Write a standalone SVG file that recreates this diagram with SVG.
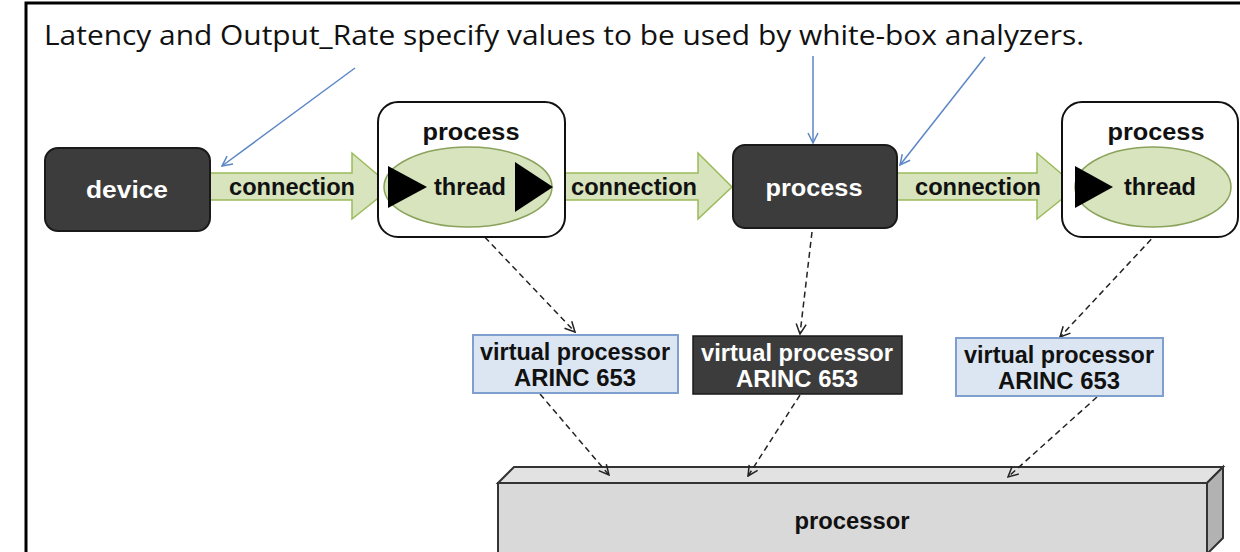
<svg xmlns="http://www.w3.org/2000/svg" width="1240" height="552" viewBox="0 0 1240 552">
  <style>
    .title { font-family: "Open Sans", "Liberation Sans", sans-serif; font-size: 28px; fill: #111; }
    .lbl { font-family: "Liberation Sans", Arial, sans-serif; font-weight: bold; font-size: 23px; }
    .dark { fill: #3c3c3c; stroke: #1a1a1a; stroke-width: 2; }
    .white { fill: #ffffff; }
    .black { fill: #111111; }
    .frame { fill: #ffffff; stroke: #111111; stroke-width: 2; }
    .conn { fill: #d7e4bd; stroke: #9bbb59; stroke-width: 1.5; }
    .thread { fill: #d7e4bd; stroke: #8aa25a; stroke-width: 1.5; }
    .port { fill: #000000; }
    .vp { fill: #dce6f2; stroke: #7f9fcf; stroke-width: 2; }
    .vpdark { fill: #3c3c3c; stroke: #1a1a1a; stroke-width: 1.5; }
    .note { stroke: #5b87c5; stroke-width: 1.5; fill: none; }
    .bind { stroke: #222222; stroke-width: 1.5; stroke-dasharray: 6 4; fill: none; }
  </style>
  <defs>
    <marker id="noteHead" viewBox="0 0 12 12" refX="11" refY="6" markerWidth="12" markerHeight="12" markerUnits="userSpaceOnUse" orient="auto">
      <path d="M1,1 L11,6 L1,11" fill="none" stroke="#5b87c5" stroke-width="1.5"/>
    </marker>
    <marker id="bindHead" viewBox="0 0 12 12" refX="11" refY="6" markerWidth="12" markerHeight="12" markerUnits="userSpaceOnUse" orient="auto">
      <path d="M1,1 L11,6 L1,11" fill="none" stroke="#222222" stroke-width="1.5"/>
    </marker>
  </defs>

  <rect width="1240" height="552" fill="#ffffff"/>
  <!-- outer frame -->
  <path d="M26,552 L26,3 L1240,3" fill="none" stroke="#000" stroke-width="3"/>

  <text class="title" x="44" y="45" textLength="1040" lengthAdjust="spacingAndGlyphs">Latency and Output_Rate specify values to be used by white-box analyzers.</text>

  <!-- processor (3D box) -->
  <g id="processor">
    <polygon points="498,483 514,467 1223,467 1207,483" fill="#e2e2e2" stroke="#333" stroke-width="2"/>
    <polygon points="1207,483 1223,467 1223,538 1207,554" fill="#b2b2b2" stroke="#333" stroke-width="2"/>
    <rect x="498" y="483" width="709" height="80" fill="#d9d9d9" stroke="#333" stroke-width="2"/>
    <text class="lbl black" x="852" y="529" text-anchor="middle" textLength="115" lengthAdjust="spacingAndGlyphs">processor</text>
  </g>

  <!-- connections -->
  <g id="connections">
    <polygon id="conn1" class="conn" points="210,173 352,173 352,153 392,187 352,219 352,200 210,200"/>
    <polygon id="conn2" class="conn" points="552,173 698,173 698,153 732,187 698,219 698,200 552,200"/>
    <polygon id="conn3" class="conn" points="897,173 1037,173 1037,153 1077,187 1037,219 1037,200 897,200"/>
    <text class="lbl black" x="292" y="195" text-anchor="middle" textLength="126" lengthAdjust="spacingAndGlyphs">connection</text>
    <text class="lbl black" x="634" y="195" text-anchor="middle" textLength="126" lengthAdjust="spacingAndGlyphs">connection</text>
    <text class="lbl black" x="978" y="195" text-anchor="middle" textLength="126" lengthAdjust="spacingAndGlyphs">connection</text>

    <!-- annotation pointers -->
    <line class="note" x1="355" y1="68" x2="222" y2="166" marker-end="url(#noteHead)"/>
    <line class="note" x1="813" y1="56" x2="813" y2="143" marker-end="url(#noteHead)"/>
    <line class="note" x1="985" y1="57" x2="900" y2="165" marker-end="url(#noteHead)"/>

    <!-- bindings -->
    <line class="bind" x1="478" y1="230" x2="575" y2="332" marker-end="url(#bindHead)"/>
    <line class="bind" x1="812" y1="232" x2="800" y2="334" marker-end="url(#bindHead)"/>
    <line class="bind" x1="1158" y1="232" x2="1060" y2="337" marker-end="url(#bindHead)"/>
    <line class="bind" x1="540" y1="394" x2="609" y2="475" marker-end="url(#bindHead)"/>
    <line class="bind" x1="800" y1="395" x2="748" y2="476" marker-end="url(#bindHead)"/>
    <line class="bind" x1="1097" y1="397" x2="1008" y2="477" marker-end="url(#bindHead)"/>
  </g>

  <!-- device -->
  <g id="device">
    <rect class="dark" x="45" y="148" width="165" height="83" rx="13"/>
    <text class="lbl white" x="127" y="198" text-anchor="middle" textLength="82" lengthAdjust="spacingAndGlyphs">device</text>
  </g>

  <!-- process with thread (left) -->
  <g id="process1">
    <rect class="frame" x="378" y="102" width="187" height="135" rx="20"/>
    <text class="lbl black" x="471" y="140" text-anchor="middle" textLength="97" lengthAdjust="spacingAndGlyphs">process</text>
    <ellipse class="thread" cx="468" cy="187" rx="84" ry="40"/>
    <polygon class="port" points="388,166 427,187 388,208"/>
    <polygon class="port" points="515,162 553,187 515,212"/>
    <text class="lbl black" x="470" y="195" text-anchor="middle" textLength="72" lengthAdjust="spacingAndGlyphs">thread</text>
  </g>

  <!-- process (middle) -->
  <g id="process2">
    <rect class="dark" x="733" y="145" width="164" height="83" rx="12"/>
    <text class="lbl white" x="814" y="196" text-anchor="middle" textLength="97" lengthAdjust="spacingAndGlyphs">process</text>
  </g>

  <!-- process with thread (right) -->
  <g id="process3">
    <rect class="frame" x="1062" y="102" width="176" height="135" rx="20"/>
    <text class="lbl black" x="1156" y="140" text-anchor="middle" textLength="97" lengthAdjust="spacingAndGlyphs">process</text>
    <ellipse class="thread" cx="1153" cy="187" rx="78" ry="40"/>
    <polygon class="port" points="1075,166 1113,187 1075,208"/>
    <text class="lbl black" x="1160" y="195" text-anchor="middle" textLength="72" lengthAdjust="spacingAndGlyphs">thread</text>
  </g>

  <!-- virtual processors -->
  <g id="vp1">
    <rect class="vp" x="473" y="335" width="205" height="58"/>
    <text class="lbl black" x="575" y="360" text-anchor="middle" textLength="190" lengthAdjust="spacingAndGlyphs">virtual processor</text>
    <text class="lbl black" x="575" y="386" text-anchor="middle" textLength="122" lengthAdjust="spacingAndGlyphs">ARINC 653</text>
  </g>
  <g id="vp2">
    <rect class="vpdark" x="693" y="336" width="209" height="58"/>
    <text class="lbl white" x="797" y="361" text-anchor="middle" textLength="192" lengthAdjust="spacingAndGlyphs">virtual processor</text>
    <text class="lbl white" x="797" y="387" text-anchor="middle" textLength="122" lengthAdjust="spacingAndGlyphs">ARINC 653</text>
  </g>
  <g id="vp3">
    <rect class="vp" x="956" y="338" width="207" height="58"/>
    <text class="lbl black" x="1059" y="363" text-anchor="middle" textLength="190" lengthAdjust="spacingAndGlyphs">virtual processor</text>
    <text class="lbl black" x="1059" y="389" text-anchor="middle" textLength="122" lengthAdjust="spacingAndGlyphs">ARINC 653</text>
  </g>
</svg>
